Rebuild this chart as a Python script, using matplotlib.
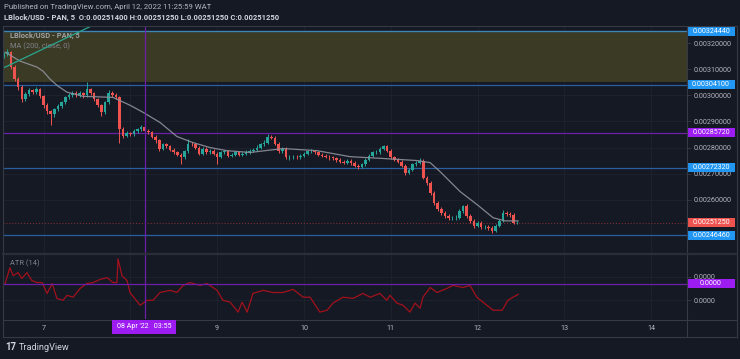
import numpy as np
import matplotlib.pyplot as plt
from matplotlib.patches import Rectangle
from matplotlib.lines import Line2D
from matplotlib.ticker import FuncFormatter

# hourly candles, x = hours counted from 06 Apr 2022 00:00, prices in 1e-6 USD
PRICE_UNIT = 1e-6
HOURS = list(range(13, 156))
OPEN_FIRST = 3150
CLOSE = [3158, 3165, 3108, 3062, 3031, 2985, 3004, 3019, 3012, 3023,
         2996, 2962, 2938, 2927, 2946, 2958, 2973, 2992, 3000, 3008,
         3000, 3008, 3000, 3023, 3008, 2985, 2962, 2935, 2973, 3008,
         3000, 2992, 2869, 2846, 2854, 2850, 2862, 2869, 2877, 2865,
         2858, 2842, 2827, 2796, 2812, 2804, 2792, 2781, 2773, 2762,
         2785, 2815, 2812, 2800, 2777, 2796, 2781, 2788, 2777, 2765,
         2781, 2785, 2769, 2773, 2781, 2773, 2777, 2781, 2788, 2792,
         2800, 2812, 2819, 2842, 2838, 2815, 2785, 2796, 2762, 2762,
         2765, 2762, 2769, 2777, 2785, 2785, 2781, 2773, 2769, 2765,
         2762, 2758, 2754, 2746, 2742, 2750, 2742, 2731, 2727, 2735,
         2754, 2769, 2781, 2781, 2796, 2804, 2788, 2762, 2754, 2746,
         2731, 2704, 2715, 2735, 2742, 2750, 2685, 2665, 2627, 2588,
         2565, 2550, 2538, 2531, 2531, 2531, 2558, 2577, 2538, 2519,
         2500, 2512, 2496, 2496, 2492, 2481, 2500, 2519, 2550, 2546,
         2542, 2512, 2512.5]
HIGH = [3166, 3178, 3170, 3115, 3070, 3038, 3012, 3027, 3026, 3031,
        3029, 3002, 2969, 2945, 2953, 2966, 2980, 2999, 3008, 3016,
        3015, 3017, 3014, 3050, 3029, 3014, 2991, 2968, 2980, 3019,
        3015, 3007, 2998, 2877, 2862, 2861, 2869, 2876, 2885, 2883,
        2871, 2864, 2849, 2833, 2819, 2818, 2811, 2798, 2788, 2779,
        2792, 2831, 2822, 2818, 2806, 2803, 2802, 2795, 2794, 2783,
        2788, 2792, 2791, 2780, 2788, 2787, 2784, 2789, 2795, 2799,
        2808, 2819, 2827, 2850, 2848, 2843, 2821, 2803, 2801, 2770,
        2772, 2771, 2776, 2784, 2792, 2793, 2791, 2787, 2779, 2775,
        2772, 2769, 2764, 2761, 2753, 2757, 2756, 2748, 2737, 2742,
        2761, 2776, 2788, 2789, 2803, 2811, 2810, 2794, 2768, 2760,
        2752, 2737, 2722, 2742, 2749, 2758, 2757, 2691, 2671, 2633,
        2594, 2572, 2556, 2545, 2539, 2540, 2565, 2581, 2583, 2544,
        2526, 2519, 2518, 2504, 2502, 2498, 2507, 2526, 2562, 2557,
        2552, 2548, 2519]
LOW = [3142, 3150, 3100, 3054, 3022, 2973, 2978, 2997, 3004, 3006,
       2988, 2953, 2930, 2888, 2918, 2939, 2951, 2966, 2985, 2993,
       2992, 2994, 2991, 2994, 3000, 2977, 2955, 2919, 2928, 2966,
       2993, 2984, 2819, 2838, 2839, 2843, 2844, 2855, 2862, 2858,
       2850, 2835, 2819, 2788, 2790, 2797, 2785, 2774, 2766, 2735,
       2756, 2779, 2805, 2793, 2770, 2771, 2774, 2775, 2770, 2735,
       2759, 2775, 2762, 2763, 2767, 2766, 2767, 2771, 2775, 2782,
       2786, 2794, 2806, 2813, 2831, 2808, 2778, 2779, 2755, 2754,
       2756, 2755, 2756, 2763, 2771, 2778, 2774, 2766, 2762, 2758,
       2754, 2751, 2746, 2739, 2735, 2736, 2734, 2724, 2719, 2721,
       2729, 2748, 2763, 2774, 2775, 2790, 2781, 2755, 2747, 2739,
       2724, 2696, 2698, 2709, 2729, 2736, 2678, 2657, 2619, 2580,
       2557, 2543, 2531, 2524, 2523, 2524, 2525, 2551, 2531, 2512,
       2492, 2494, 2489, 2488, 2485, 2473, 2476, 2494, 2513, 2539,
       2535, 2506, 2506]

# MA (200, close)
MA_HOURS = [13.4, 17.5, 22.2, 23.9, 25.8, 28.0, 30.5, 34.9, 43.2, 47.9, 51.5,
            56.2, 60.9, 65.3, 70.0, 74.7, 81.1, 90.2, 99.6, 108.7, 117.9,
            127.3, 130.9, 133.6, 139.2, 143.9, 148.3, 151.6, 155.2]
MA_VALUES = [3165, 3131, 3108, 3092, 3062, 3035, 3012, 2996, 2992, 2962, 2935,
             2896, 2842, 2819, 2800, 2788, 2781, 2796, 2788, 2765, 2758,
             2750, 2742, 2708, 2631, 2581, 2531, 2519, 2519]

# ATR (14), in 1e-7 USD
ATR_UNIT = 1e-7
ATR_HOURS = [13.4, 14.7, 15.6, 17.0, 18.0, 19.4, 20.8, 22.2, 23.6, 25.0,
             26.4, 27.7, 29.4, 30.5, 32.2, 34.1, 36.0, 37.7, 39.6, 41.6,
             43.2, 44.3, 44.6, 45.7, 47.1, 47.9, 50.7, 52.6, 54.3, 56.2,
             59.0, 60.9, 62.6, 64.5, 67.3, 69.2, 72.0, 73.6, 75.6, 77.8,
             78.9, 80.3, 81.9, 84.7, 87.4, 90.2, 93.0, 95.8, 97.7, 100.4,
             102.4, 104.0, 106.8, 109.6, 112.3, 114.3, 117.0, 118.9, 119.8, 121.7,
             123.4, 125.3, 126.7, 128.1, 128.9, 130.9, 132.8, 135.5, 137.2, 140.0,
             141.9, 143.8, 145.5, 148.3, 150.8, 152.4, 153.8, 155.2]
ATR_VALUES = [171, 238, 204, 217, 192, 217, 183, 175, 175, 129,
              171, 108, 100, 121, 113, 150, 171, 175, 188, 196,
              175, 175, 275, 204, 183, 133, 79, 100, 100, 133,
              142, 133, 163, 175, 163, 171, 142, 100, 92, 50,
              92, 50, 129, 142, 133, 133, 146, 113, 113, 50,
              58, 88, 113, 108, 129, 113, 129, 100, 121, 88,
              79, 50, 88, 67, 113, 154, 133, 150, 163, 154,
              163, 113, 92, 58, 58, 100, 113, 125]

# drawings
TREND_HOURS = [12.8, 39.6]
TREND_PRICES = [0.003104, 0.003281]
ZONE = (0.003052, 0.0032444)
LEVEL_PRICES = [0.0032444, 0.0030410, 0.0028572, 0.0027232, 0.0024646]
LEVEL_LABELS = ["0.00324440", "0.00304100", "0.00285720", "0.00272320", "0.00246460"]
LAST_PRICE = 0.0025125
CROSS_HOUR = 51.92
CROSS_ATR = 1.708e-5

DAY_HOURS = [24, 48, 72, 96, 120, 144, 168, 192]
DAY_LABELS = ["7", "", "9", "10", "11", "12", "13", "14"]   # "8" sits under the crosshair tag
PRICE_TICKS = [0.0026, 0.0027, 0.0028, 0.0029, 0.0030, 0.0031, 0.0032]
ATR_TICKS = [1e-5, 2e-5]

BG = "#151924"
GRID = "#1f2330"
TXT = "#b2b5be"
FRAME = "#363a45"
UP = "#26a69a"
DOWN = "#ef5350"
BLUE_LINE = "#2a5f9e"
BLUE_BOX = "#2196f3"
PURPLE_LINE = "#6c1fa8"
PURPLE_BOX = "#9c1cf2"

W, H = 740, 359
plt.rcParams["font.family"] = ["Roboto", "DejaVu Sans"]


def fig_box(x0, y0, x1, y1):
    # pixel box, origin top-left -> figure fraction rect
    return [x0 / W, 1 - y1 / H, (x1 - x0) / W, (y1 - y0) / H]


def px_x(x):
    return x / W


def px_y(y):
    return 1 - y / H


def price_tag(axis, value, text, color):
    y0, y1 = axis.get_ylim()
    per_px = (y1 - y0) / (axis.get_position().height * H)
    ax_w = axis.get_position().width * W
    h = 9 * per_px
    axis.add_patch(Rectangle((1.0, value - h / 2), 48 / ax_w, h,
                             transform=axis.get_yaxis_transform(), clip_on=False,
                             facecolor=color, edgecolor="none", zorder=6))
    axis.text(1.0 + 24 / ax_w, value, text, transform=axis.get_yaxis_transform(),
              ha="center", va="center", fontsize=5.1, color="white", zorder=7,
              clip_on=False)


fig = plt.figure(figsize=(7.4, 3.59), dpi=100, facecolor=BG)
ax = fig.add_axes(fig_box(3, 26, 687, 253))
ax_atr = fig.add_axes(fig_box(3, 254, 687, 319))

for a in (ax, ax_atr):
    a.set_facecolor(BG)
    for s in a.spines.values():
        s.set_visible(False)
    a.set_xlim(12.8, 201.9)
    a.set_xticks(DAY_HOURS)
    a.grid(True, color=GRID, lw=0.6)
    a.set_axisbelow(True)
    a.yaxis.tick_right()
    a.tick_params(axis="y", colors=FRAME, labelcolor=TXT, labelsize=5.2, length=3, pad=1.5, width=0.6)

# main pane
ax.set_ylim(0.002396, 0.0032654)
ax.set_yticks(PRICE_TICKS)
ax.yaxis.set_major_formatter(FuncFormatter(lambda v, p: f"{v:.8f}"))
ax.tick_params(axis="x", length=0, labelbottom=False)

ax.axhspan(ZONE[0], ZONE[1], color="#3b3a24", lw=0, zorder=1)
for p in LEVEL_PRICES:
    col = PURPLE_LINE if p == 0.0028572 else BLUE_LINE
    ax.axhline(p, color=col, lw=0.9, zorder=2)
ax.axhline(ZONE[1], color="#3f86b0", lw=0.9, zorder=2)
ax.axhline(LAST_PRICE, color="#7a2e33", lw=0.8, ls=":", zorder=2)

hours = np.array(HOURS, dtype=float)
close = np.array(CLOSE) * PRICE_UNIT
opens = np.array([OPEN_FIRST] + CLOSE[:-1]) * PRICE_UNIT
high = np.array(HIGH) * PRICE_UNIT
low = np.array(LOW) * PRICE_UNIT
colors = np.where(close >= opens, UP, DOWN)
ax.vlines(hours, low, high, colors=colors, lw=0.7, zorder=3)
body = np.maximum(np.abs(close - opens), 0.6 * PRICE_UNIT)
ax.bar(hours, body, bottom=np.minimum(close, opens), width=0.72, color=colors, lw=0, zorder=4)

ax.plot(MA_HOURS, np.array(MA_VALUES) * PRICE_UNIT, color="#8f929b", lw=0.9, alpha=0.9, zorder=5)
ax.plot(TREND_HOURS, TREND_PRICES, color="#2aa58e", lw=0.9, zorder=5)
ax.axvline(CROSS_HOUR, color=PURPLE_LINE, lw=0.9, zorder=5)

for p, lab in zip(LEVEL_PRICES, LEVEL_LABELS):
    price_tag(ax, p, lab, PURPLE_BOX if p == 0.0028572 else BLUE_BOX)
price_tag(ax, LAST_PRICE, "0.00251250", DOWN)

ax.text(7 / 684, 1 - 10 / 227, "LBlock/USD - PAN, 5", transform=ax.transAxes,
        fontsize=5.4, color=TXT, fontweight="bold", va="center", alpha=0.85)
ax.text(7 / 684, 1 - 20 / 227, "MA (200, close, 0)", transform=ax.transAxes,
        fontsize=5.4, color="#80838c", va="center")

# ATR pane
ax_atr.set_ylim(0.208e-5, 2.958e-5)
ax_atr.set_yticks(ATR_TICKS)
ax_atr.yaxis.set_major_formatter(FuncFormatter(lambda v, p: f"{v:.4f}"))
ax_atr.set_xticklabels(DAY_LABELS)
ax_atr.tick_params(axis="x", length=0, labelsize=5.2, labelcolor=TXT, pad=4.5)
ax_atr.plot(ATR_HOURS, np.array(ATR_VALUES) * ATR_UNIT, color="#a3111c", lw=0.9)
ax_atr.axvline(CROSS_HOUR, color=PURPLE_LINE, lw=0.9)
ax_atr.axhline(CROSS_ATR, color=PURPLE_LINE, lw=0.9)
price_tag(ax_atr, CROSS_ATR, "0.0000", PURPLE_BOX)
ax_atr.text(7 / 684, 1 - 9 / 65, "ATR (14)", transform=ax_atr.transAxes,
            fontsize=5.4, color="#80838c", va="center")

# frame around the chart
frame = [((3, 737), (26, 26)), ((3, 737), (336.5, 336.5)), ((3, 3), (26, 336.5)),
         ((737, 737), (26, 336.5)), ((687, 687), (26, 336.5)), ((3, 737), (319.5, 319.5))]
for xs, ys in frame:
    fig.add_artist(Line2D([px_x(v) for v in xs], [px_y(v) for v in ys], color=FRAME, lw=0.8))
fig.add_artist(Line2D([px_x(3), px_x(737)], [px_y(253.5), px_y(253.5)], color="#2a2e39", lw=1.6))

# crosshair time tag
fig.add_artist(Rectangle((px_x(112), px_y(333.5)), (176 - 112) / W, 14 / H,
                         transform=fig.transFigure, facecolor=PURPLE_BOX, edgecolor="none", zorder=10))
fig.text(px_x(144), px_y(326.5), "08 Apr '22   03:55", ha="center", va="center",
         fontsize=5.1, color="white", zorder=11)

# header
fig.text(px_x(4), px_y(7), "Published on TradingView.com, April 12, 2022 11:25:59 WAT",
         fontsize=5.6, color=TXT, va="center")
fig.text(px_x(4), px_y(17), "LBlock/USD - PAN, 5  O:0.00251400 H:0.00251250 L:0.00251250 C:0.00251250",
         fontsize=5.5, color="#d1d4dc", fontweight="bold", va="center")
fig.text(px_x(5), px_y(347), "17", fontsize=7, color="#d1d4dc", fontweight="bold", va="center")
fig.text(px_x(19), px_y(347), "TradingView", fontsize=6.6, color="#d1d4dc", va="center")

fig.savefig("out.png", dpi=100, facecolor=BG)
